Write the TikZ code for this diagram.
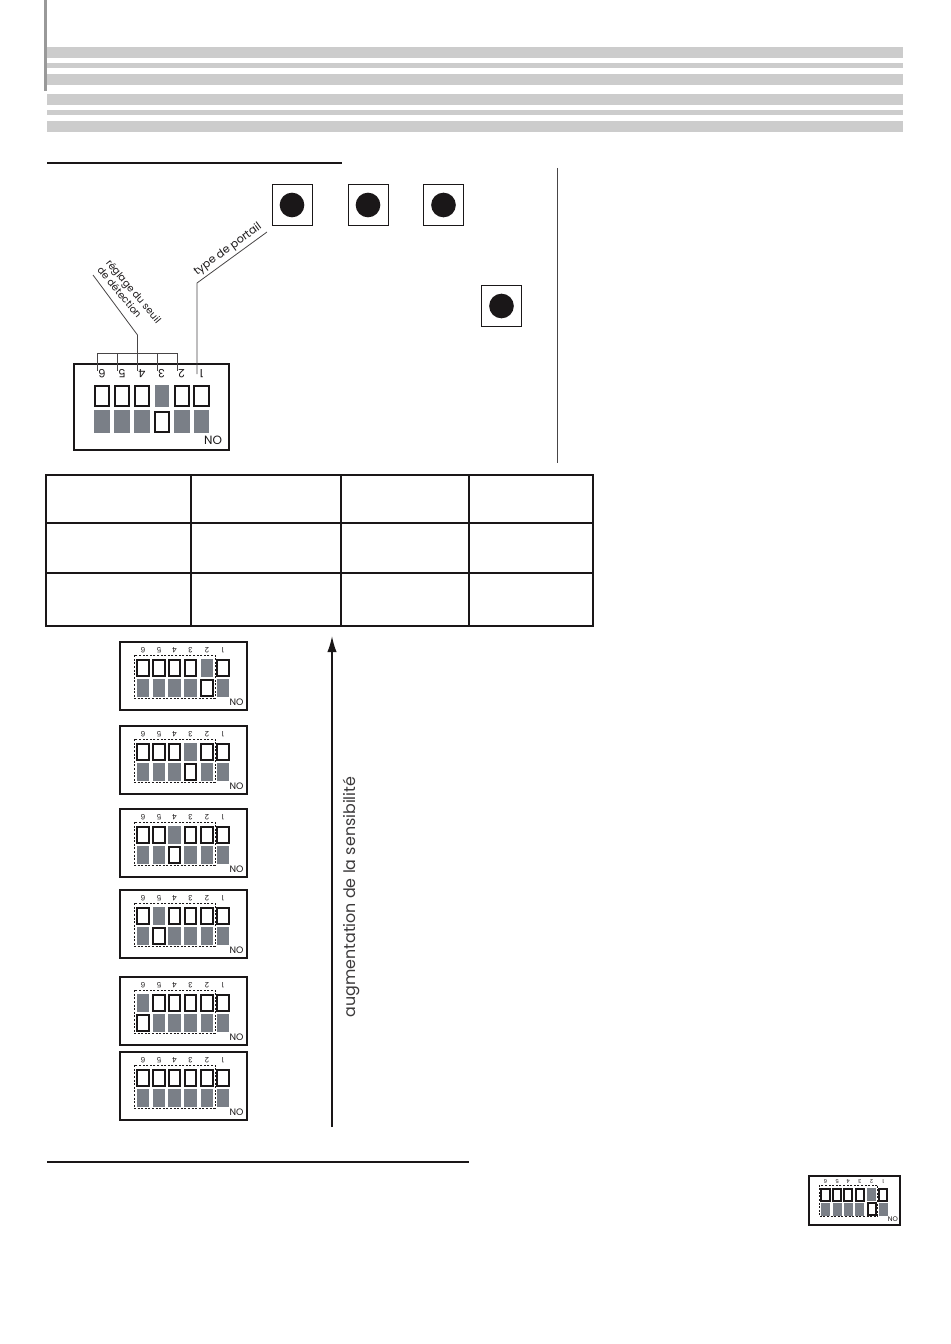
\documentclass[tikz,border=0pt]{standalone}
\usepackage{fontspec}
\setmainfont{Poppins}
\usetikzlibrary{arrows.meta}
\definecolor{bandgray}{HTML}{CCCCCC}
\definecolor{bargray}{HTML}{999999}
\definecolor{cellgray}{HTML}{7A7F87}
\definecolor{inkblack}{HTML}{1A1718}
\tikzset{
  band/.style={fill=bandgray, draw=none},
  rulebar/.style={draw=inkblack, line width=1.5pt},
  tableline/.style={draw=inkblack, line width=1.5pt},
  leader/.style={draw=inkblack!80, line width=0.6pt},
  pushbtn/.style={draw=inkblack, fill=white, line width=0.6pt, minimum width=30pt, minimum height=31pt, inner sep=0pt},
  btndot/.style={circle, fill=inkblack, minimum size=18.5pt, inner sep=0pt},
  oncell/.style={fill=cellgray, minimum width=#1, minimum height=13.5pt, inner sep=0pt},
  oncell/.default=9.4pt,
  offcell/.style={draw=inkblack, fill=white, line width=1.5pt, minimum width=8.6pt, minimum height=12.5pt, inner sep=0pt},
  dipbox/.style={draw=inkblack, line width=1.5pt, minimum width=95pt, minimum height=51pt, inner sep=0pt},
  dipzone/.style={draw=inkblack, dashed, line width=0.4pt, dash pattern=on 1.5pt off 1.2pt, minimum width=60.75pt, minimum height=32.25pt, inner sep=0pt},
  diplabel/.style={font=\fontsize{5.5}{6}\selectfont, rotate=180, inner sep=0pt, text=inkblack},
  bignum/.style={font=\fontsize{8.5}{9}\selectfont, rotate=180, inner sep=0pt, text=inkblack},
  noflag/.style={font=\fontsize{7}{8}\selectfont, inner sep=0pt, text=inkblack},
  dipsw/.pic={
    \node[dipbox] (-box) at (63.5,34) {};
    \node[dipzone] (-zone) at (54.5,34.5) {};
    \foreach \n/\xx in {6/23,5/39,4/54.5,3/70.5,2/87,1/103} {
      \ifnum\n=#1 \def\topcell{oncell}\def\botcell{offcell}\else \def\topcell{offcell}\def\botcell{oncell}\fi
      \node[diplabel] (-l\n) at (\xx,8) {\n};
      \node[\topcell] (-t\n) at (\xx,26) {};
      \node[\botcell] (-b\n) at (\xx,46) {};
    }
    \node[noflag] (-no) at (116.5,60.5) {NO};
  }
}

\begin{document}
\begin{tikzpicture}[x=0.75pt, y=-0.75pt]
  \useasboundingbox (0,0) rectangle (950,1344);

  % Header bands
  \foreach \ya/\yb in {47/58,63/68,74/85,94/105,110/115,121/132}
    \fill[band] (47,\ya) rectangle (903,\yb);
  \fill[bargray] (44,0) rectangle (47,91);
  \coordinate (rule1a) at (47,163);
  \coordinate (rule1b) at (342,163);
  \draw[rulebar] (rule1a) -- (rule1b);
  \coordinate (rule2a) at (47,1161.5);
  \coordinate (rule2b) at (469,1161.5);
  \draw[rulebar] (rule2a) -- (rule2b);
  \coordinate (vsepa) at (557.5,168);
  \coordinate (vsepb) at (557.5,463);
  \draw[leader] (vsepa) -- (vsepb);

  % Push buttons
  \foreach \nm/\px/\py in {btna/292/205,btnb/368/205,btnc/443.5/205,btnd/501.5/306} {
    \node[pushbtn] (\nm) at (\px,\py) {};
    \node[btndot] (\nm dot) at (\px,\py) {};
  }

  % Large switch block
  \node[dipbox, minimum width=116pt, minimum height=64.5pt] (bigdip) at (151.5,407) {};
  \foreach \n/\xx in {6/102,5/122,4/142,3/161.5,2/181.5,1/201.5}
    \node[bignum] (num\n) at (\xx,374) {\n};
  \foreach \n/\xx in {6/102,5/122,4/142,2/182,1/201.5} {
    \node[offcell, minimum width=11pt, minimum height=15pt] (top\n) at (\xx,396) {};
    \node[oncell=11.5pt, minimum height=17pt] (bot\n) at (\xx,421.5) {};
  }
  \node[oncell=11pt, minimum height=16.5pt] (top3) at (162,396) {};
  \node[offcell, minimum width=10pt, minimum height=15pt] (bot3) at (162,421.5) {};
  \node[noflag, font=\fontsize{9}{10}\selectfont] (bigno) at (213,440) {NO};

  % Leaders of the large block
  \coordinate (brl) at (97.5,353);
  \coordinate (brr) at (177,353);
  \coordinate (brm) at (137.5,353);
  \coordinate (sensup) at (137.5,335);
  \coordinate (sensend) at (93,275);
  \draw[leader] (brl) -- (brr);
  \foreach \xx in {97.5,117.5,137.5,157,177}
    \draw[leader] (\xx,353) -- (\xx,371);
  \draw[leader] (brm) -- (sensup) -- (sensend);
  \coordinate (typea) at (197,374);
  \coordinate (typeb) at (197,283);
  \coordinate (typec) at (267,232);
  \draw[leader] (typea) -- (typeb) -- (typec);
  \node[rotate=36, inner sep=0pt, font=\fontsize{8.3}{9}\selectfont, text=inkblack] (typelabel) at (228,249.5) {type de portail};
  \node[rotate=-50, inner sep=0pt, align=left, font=\fontsize{7.4}{8.6}\selectfont, text=inkblack] (senslabel) at (129.5,295) {réglage du seuil\\de détection};

  % Table
  \draw[tableline] (46,475) rectangle (593,626);
  \foreach \yy in {523,573}
    \draw[tableline] (46,\yy) -- (593,\yy);
  \foreach \xx in {191,341,469}
    \draw[tableline] (\xx,475) -- (\xx,626);

  % Switch settings
  \foreach \yy/\on in {642/2,726/3,809/4,890/5,977/6,1052/0}
    \pic (dip\on) at (120,\yy) {dipsw=\on};
  \pic[scale=0.72, transform shape] (dipsmall) at (809,1176) {dipsw=2};

  % Sensitivity arrow
  \coordinate (arrowa) at (332,1127);
  \coordinate (arrowb) at (332,636);
  \draw[draw=inkblack, line width=1.2pt, -{Latex[length=12pt,width=7pt]}] (arrowa) -- (arrowb);
  \node[rotate=90, inner sep=0pt, font=\fontsize{11.9}{13}\selectfont, text=inkblack!85] (senstext) at (351,897) {augmentation de la sensibilité};

\end{tikzpicture}
\end{document}
